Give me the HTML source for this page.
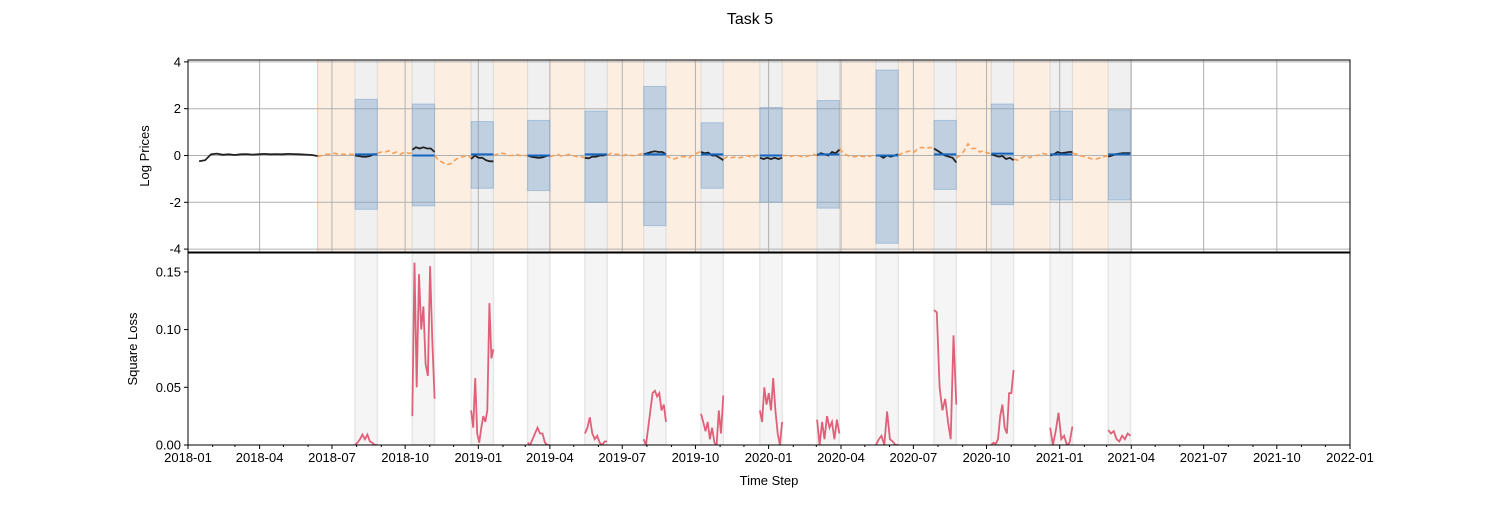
<!DOCTYPE html>
<html><head><meta charset="utf-8"><style>
body{margin:0;background:#fff;}
svg{font-family:"Liberation Sans","DejaVu Sans",sans-serif;}
</style></head><body>
<svg id="chart" width="1500" height="500"></svg>
<script>
// ---- data ----
const windowStartDays = [210,282,356,427,499,573,645,719,791,865,938,1010,1084,1157];
const windowLenDays = 28;
const trainStartDay = 163;
const bandUpper = [2.4,2.2,1.45,1.5,1.9,2.95,1.4,2.05,2.35,3.65,1.5,2.2,1.9,1.95];
const bandLower = [-2.3,-2.15,-1.4,-1.5,-2.0,-3.0,-1.4,-2.0,-2.25,-3.75,-1.45,-2.1,-1.9,-1.9];
const predValues = [0.05,0.0,0.05,0.0,0.05,0.05,0.05,0.0,0.05,0.0,0.05,0.08,0.05,0.05];
const historyPrices = [-0.25,-0.2,0.05,0.08,0.03,0.05,0.02,0.05,0.06,0.04,0.05,0.07,0.05,0.06,0.05,0.07,0.06,0.05,0.04,0.02,-0.02];
const testPrices = [
 [0.0,-0.02,-0.05,-0.05,-0.02,0.05,0.05],
 [0.25,0.35,0.3,0.35,0.3,0.3,0.15],
 [-0.15,0.0,-0.1,-0.1,-0.2,-0.25,-0.25],
 [0.0,-0.05,-0.08,-0.1,-0.08,-0.02,0.0],
 [-0.1,-0.12,-0.05,-0.05,0.0,0.0,0.05],
 [0.05,0.1,0.15,0.18,0.15,0.15,0.05],
 [0.15,0.1,0.12,0.0,0.0,-0.1,-0.2],
 [-0.1,-0.15,-0.1,-0.15,-0.1,-0.15,-0.1],
 [0.0,0.1,0.05,0.0,0.15,0.1,0.25],
 [0.0,0.0,-0.1,0.0,-0.05,0.0,0.05],
 [0.3,0.2,0.1,0.0,-0.05,-0.1,-0.3],
 [0.05,0.0,-0.05,-0.02,-0.15,-0.1,-0.2],
 [0.0,0.05,0.15,0.1,0.12,0.15,0.15],
 [-0.05,0.0,0.05,0.08,0.1,0.1,0.1]
];
const trainPrices = [
 [-0.05,0.0,0.05,0.05,0.1,0.05,0.05,0.05,0.05,0.05],
 [0.1,0.15,0.15,0.2,0.1,0.15,0.05,0.15,0.1,0.1],
 [0.0,-0.2,-0.3,-0.4,-0.35,-0.2,-0.1,-0.05,0.0,-0.1],
 [0.0,0.05,0.1,0.08,0.0,0.0,0.05,0.0,0.0,0.0],
 [-0.05,0.0,0.05,-0.02,0.0,0.05,0.0,-0.05,-0.05,-0.1],
 [0.0,0.1,0.05,0.05,0.0,0.05,0.0,0.0,0.05,0.1],
 [0.0,-0.1,-0.15,-0.1,-0.05,-0.05,-0.1,0.05,0.1,0.2],
 [-0.15,-0.05,-0.1,-0.05,-0.1,-0.05,0.0,-0.1,0.0,0.05],
 [0.0,0.0,-0.05,0.0,0.0,-0.05,-0.05,0.0,0.05,0.0],
 [0.3,0.1,0.0,-0.05,-0.05,0.0,-0.05,-0.05,0.0,0.0],
 [0.0,0.1,0.15,0.2,0.15,0.3,0.35,0.3,0.35,0.3],
 [-0.1,0.0,0.2,0.5,0.3,0.3,0.15,0.2,0.1,0.1],
 [-0.15,-0.2,-0.1,0.0,-0.1,0.0,0.0,0.1,0.05,0.1],
 [0.1,0.05,0.0,-0.05,-0.1,-0.15,-0.15,-0.1,-0.05,0.0]
];
const lossValues = [
 [0,0.002,0.005,0.009,0.005,0.009,0.003,0.002,0,0],
 [0.025,0.158,0.05,0.148,0.1,0.12,0.07,0.06,0.155,0.09,0.04],
 [0.03,0.015,0.058,0.01,0.002,0.015,0.025,0.02,0.03,0.123,0.075,0.083],
 [0.002,0,0.005,0.01,0.015,0.01,0.01,0.002,0,0],
 [0.01,0.015,0.024,0.01,0.005,0.008,0.002,0,0.003,0.003],
 [0.005,0,0.015,0.03,0.045,0.047,0.042,0.045,0.03,0.035,0.02],
 [0.027,0.02,0.012,0.02,0.005,0.015,0.002,0,0.03,0.01,0.043],
 [0.03,0.02,0.05,0.035,0.045,0.03,0.058,0.03,0.01,0.0,0.02],
 [0.022,0,0.02,0.005,0.025,0.015,0.02,0.005,0.022,0.01],
 [0,0.005,0.008,0,0.029,0.005,0.003,0,0],
 [0.117,0.115,0.05,0.03,0.04,0.02,0.005,0.095,0.035],
 [0,0.002,0.001,0.005,0.025,0.035,0.015,0.01,0.045,0.045,0.065],
 [0.015,0,0.012,0.028,0.005,0.008,0,0.002,0.016],
 [0.013,0.01,0.012,0.005,0.003,0.008,0.005,0.01,0.008]
];
const xTickLabels = ["2018-01","2018-04","2018-07","2018-10","2019-01","2019-04","2019-07","2019-10","2020-01","2020-04","2020-07","2020-10","2021-01","2021-04","2021-07","2021-10","2022-01"];
const topYTicks = [-4,-2,0,2,4];
const lossYTicks = [0,0.05,0.10,0.15];

// ---- scales ----
const L=188,R=1350, T1=60,B1=252, T2=253,B2=445;
const base = Date.UTC(2018,0,1), totalDays = (Date.UTC(2022,0,1)-base)/864e5;
const x = d => L + d/totalDays*(R-L);
const y1 = v => 155.5 - v*23.4;
const y2 = v => 445 - v/0.05*57.7;
const dayOf = s => (Date.UTC(+s.slice(0,4), +s.slice(5,7)-1, 1)-base)/864e5;

const svg = document.getElementById('chart');
const NS='http://www.w3.org/2000/svg';
function mk(tag, attrs, parent){const e=document.createElementNS(NS,tag);for(const k in attrs)e.setAttribute(k,attrs[k]);(parent||svg).appendChild(e);return e;}
function pts(arr, d0, d1, f){return arr.map((v,i)=>x(d0+(d1-d0)*i/(arr.length-1)).toFixed(1)+','+f(v).toFixed(1)).join(' ');}

let e = mk('text',{x:750,y:24,'text-anchor':'middle','font-size':16});
e.textContent='Task 5';



// clip paths
const defs=mk('defs',{});
const c1=mk('clipPath',{id:'c1'},defs); mk('rect',{x:L,y:T1,width:R-L,height:B1-T1},c1);
const c2=mk('clipPath',{id:'c2'},defs); mk('rect',{x:L,y:T2,width:R-L,height:B2-T2},c2);

// ---- top panel ----
const g1=mk('g',{'clip-path':'url(#c1)'});


// train spans
windowStartDays.forEach((ws,i)=>{
  const s = i===0 ? trainStartDay : windowStartDays[i-1]+windowLenDays;
  const r=mk('rect',{x:x(s),y:T1,width:x(ws)-x(s),height:B1-T1,fill:'#fdeee2',stroke:'#fbc79a','stroke-width':1},g1);
  
  
});
windowStartDays.forEach((ws,i)=>{
  const r=mk('rect',{x:x(ws),y:T1,width:x(ws+windowLenDays)-x(ws),height:B1-T1,fill:'#f0f0f0',stroke:'#dddddd','stroke-width':1},g1);
  
  
});
// grid
xTickLabels.forEach(t=>{mk('line',{x1:x(dayOf(t)),x2:x(dayOf(t)),y1:T1,y2:B1,stroke:'#b0b0b0','stroke-width':1},g1);});
topYTicks.forEach(v=>{mk('line',{x1:L,x2:R,y1:y1(v),y2:y1(v),stroke:'#b0b0b0','stroke-width':1},g1);});
// bands
windowStartDays.forEach((ws,i)=>{
  const r=mk('rect',{x:x(ws),y:y1(bandUpper[i]),width:x(ws+windowLenDays)-x(ws),height:y1(bandLower[i])-y1(bandUpper[i]),fill:'rgba(120,160,200,0.4)',stroke:'rgba(120,160,200,0.5)','stroke-width':1},g1);
  
  
});
// train dashed
trainPrices.forEach((arr,i)=>{
  const s = i===0 ? trainStartDay : windowStartDays[i-1]+windowLenDays;
  const p=mk('polyline',{points:pts(arr,s,windowStartDays[i],y1),fill:'none',stroke:'#f5a05a','stroke-width':1.6,'stroke-dasharray':'5,3'},g1);
  
  
});
// history
e=mk('polyline',{points:pts(historyPrices,14,trainStartDay,y1),fill:'none',stroke:'#222','stroke-width':1.8},g1);


testPrices.forEach((arr,i)=>{
  const ws=windowStartDays[i];
  const p=mk('polyline',{points:pts(arr,ws,ws+windowLenDays,y1),fill:'none',stroke:'#222','stroke-width':1.8},g1);
  
  
  const q=mk('line',{x1:x(ws),x2:x(ws+windowLenDays),y1:y1(predValues[i]),y2:y1(predValues[i]),stroke:'#1565c0','stroke-width':2},g1);
  
  
});
mk('rect',{x:L,y:T1,width:R-L,height:B1-T1,fill:'none',stroke:'#000','stroke-width':1});
topYTicks.forEach(v=>{
  mk('line',{x1:L-4,x2:L,y1:y1(v),y2:y1(v),stroke:'#000'});
  const t=mk('text',{x:L-7,y:y1(v)+4.5,'text-anchor':'end','font-size':13});
  t.textContent=v;  
});
e=mk('text',{x:149,y:156,'text-anchor':'middle','font-size':13,transform:'rotate(-90 149 156)'});
e.textContent='Log Prices';



// ---- bottom panel ----
const g2=mk('g',{'clip-path':'url(#c2)'});


windowStartDays.forEach(ws=>{
  const r=mk('rect',{x:x(ws),y:T2,width:x(ws+windowLenDays)-x(ws),height:B2-T2,fill:'#f5f5f5',stroke:'#e6e6e6','stroke-width':1.5},g2);
  
  
});
lossValues.forEach((arr,i)=>{
  const ws=windowStartDays[i];
  const p=mk('polyline',{points:pts(arr,ws,ws+windowLenDays,y2),fill:'none',stroke:'#e0607a','stroke-width':1.8},g2);
  
  
});
mk('rect',{x:L,y:T2,width:R-L,height:B2-T2,fill:'none',stroke:'#000','stroke-width':1});
lossYTicks.forEach(v=>{
  mk('line',{x1:L-4,x2:L,y1:y2(v),y2:y2(v),stroke:'#000'});
  const t=mk('text',{x:L-7,y:y2(v)+4.5,'text-anchor':'end','font-size':13});
  t.textContent=v.toFixed(2);  
});
e=mk('text',{x:137,y:349,'text-anchor':'middle','font-size':13,transform:'rotate(-90 137 349)'});
e.textContent='Square Loss';


// minor monthly ticks
for(let m=0;m<=48;m++){
  const d=(Date.UTC(2018,m,1)-base)/864e5;
  mk('line',{x1:x(d),x2:x(d),y1:B2,y2:B2+(m%3===0?4:2),stroke:'#000'});
}
xTickLabels.forEach(s=>{
  const t=mk('text',{x:x(dayOf(s)),y:B2+17,'text-anchor':'middle','font-size':13});
  t.textContent=s;  
});
e=mk('text',{x:769,y:485,'text-anchor':'middle','font-size':13});
e.textContent='Time Step';


</script>
</body></html>
